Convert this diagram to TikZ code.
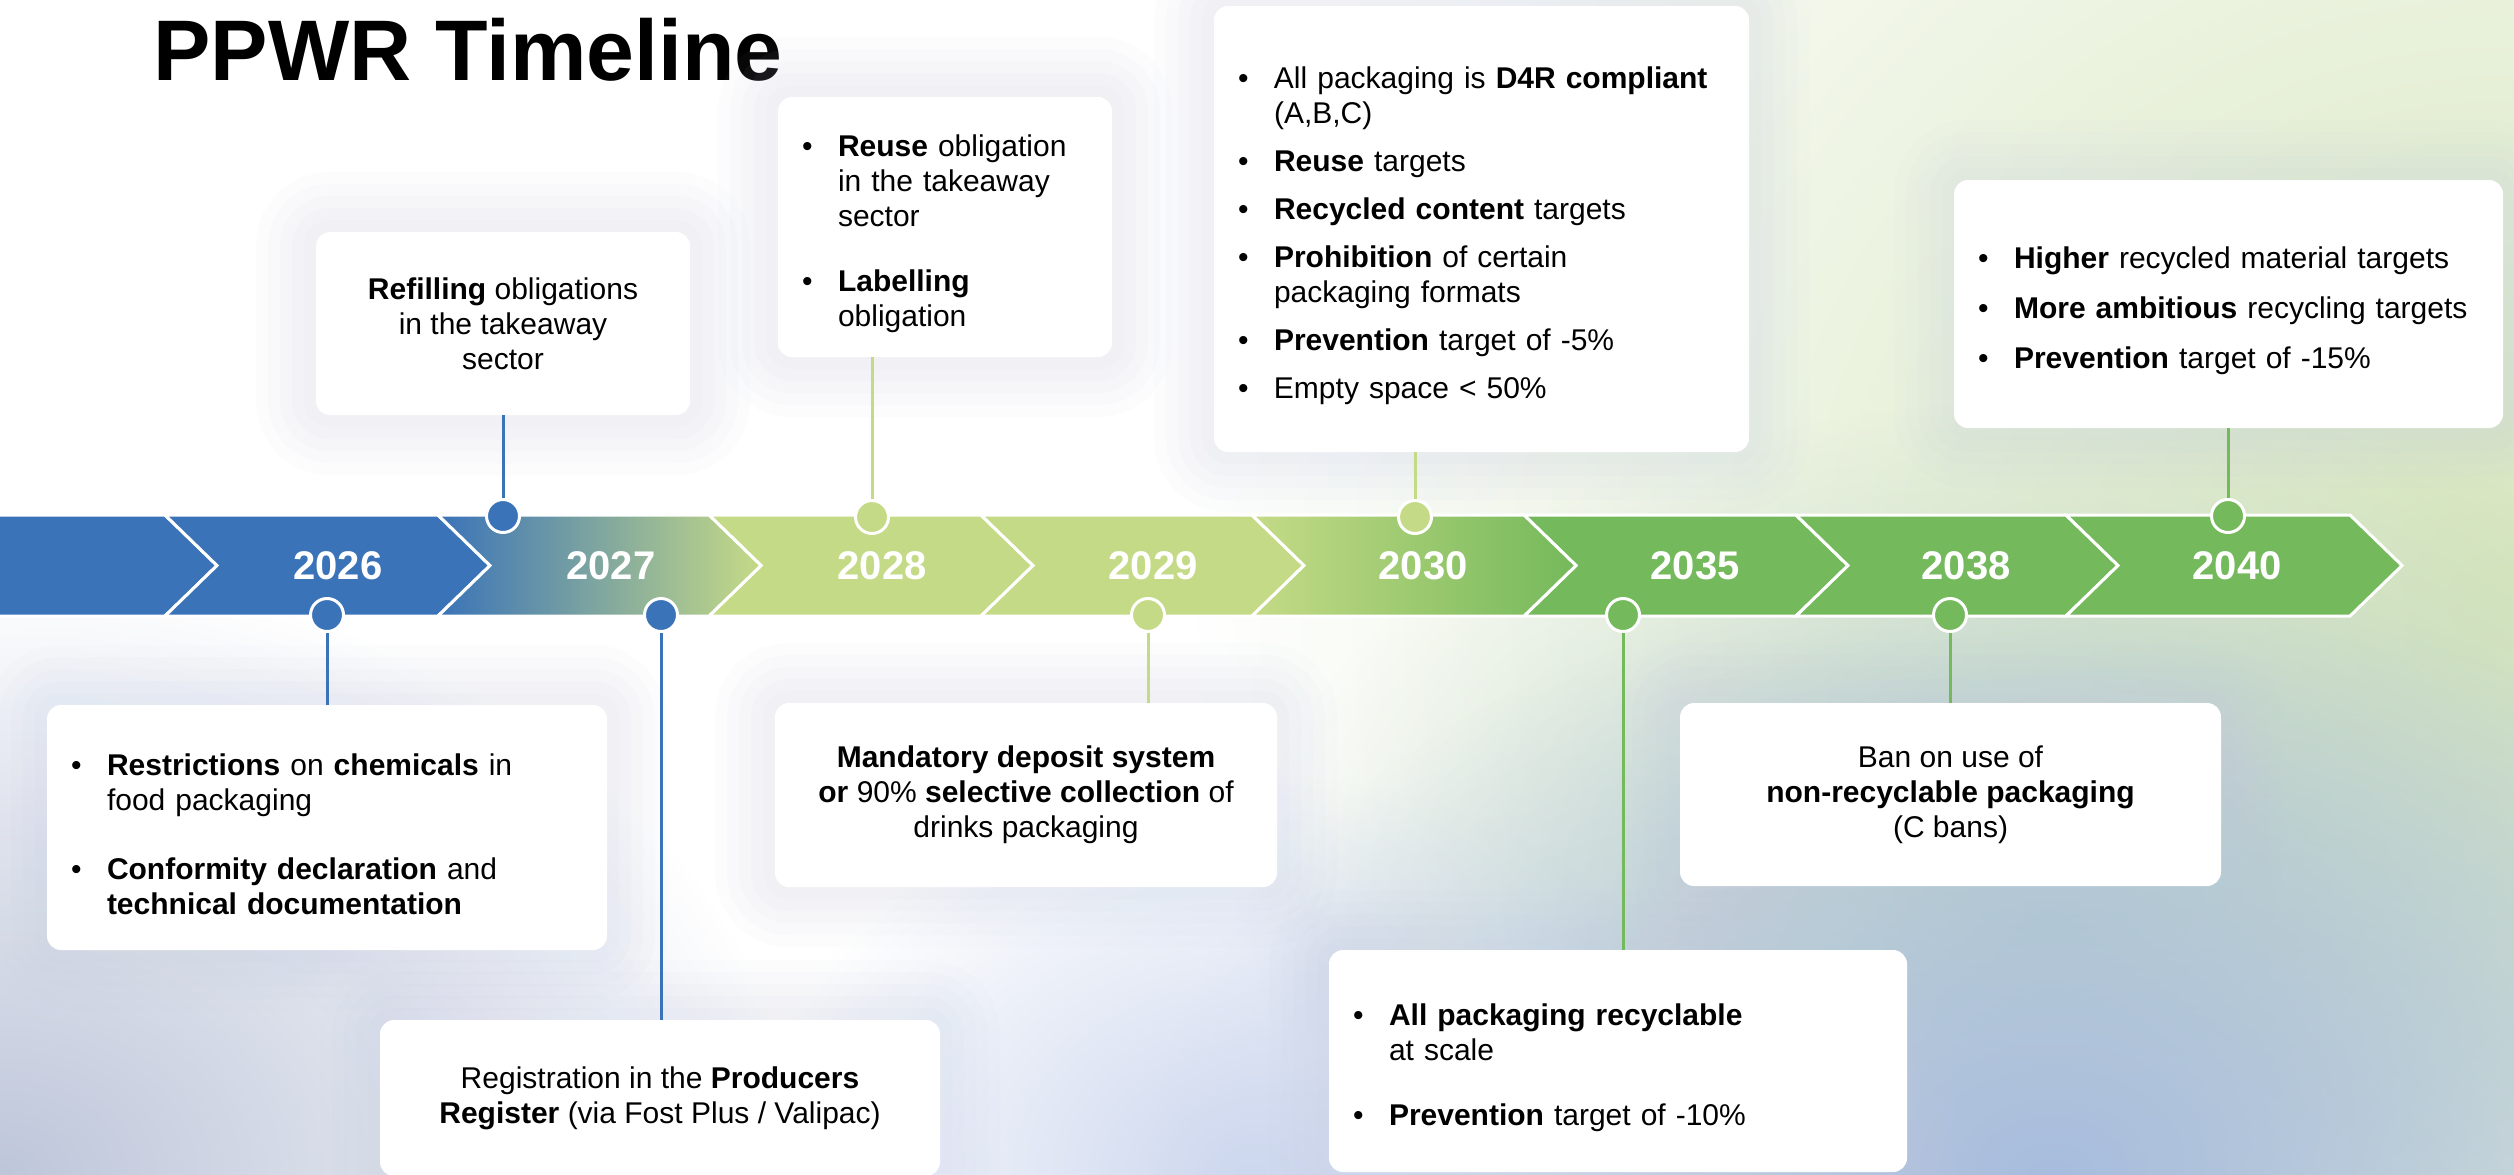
\documentclass[tikz,border=0pt]{standalone}
\usepackage{fontspec}
\setmainfont{Liberation Sans}
\usetikzlibrary{fadings}
\definecolor{ppblue}{RGB}{58,115,184}
\definecolor{pplight}{RGB}{197,218,134}
\definecolor{ppgreen}{RGB}{116,185,91}
\definecolor{pplav}{RGB}{195,203,228}
\definecolor{bggreen}{RGB}{214,230,188}
\definecolor{bgteal}{RGB}{190,212,200}
\definecolor{bgblue}{RGB}{168,188,222}
\definecolor{bggray}{RGB}{190,198,218}
\definecolor{bgsky}{RGB}{205,215,238}
\newcommand{\bul}[2][0pt]{\par\vspace{#1}\noindent\hangindent=18pt\hangafter=1\makebox[18pt][l]{\textbullet}#2\par}
\tikzfading[name=glow,inner color=transparent!0,outer color=transparent!100]
\tikzset{every picture/.style={x=0.5pt,y=-0.5pt}}
\tikzset{card/.style={rectangle,rounded corners=7pt,fill=white,inner sep=0pt,
  font=\fontsize{15}{17.5}\selectfont,
  preaction={draw=pplav,line width=60pt,opacity=.04},
  preaction={draw=pplav,line width=48pt,opacity=.05},
  preaction={draw=pplav,line width=36pt,opacity=.05},
  preaction={draw=pplav,line width=24pt,opacity=.06},
  preaction={draw=pplav,line width=12pt,opacity=.06}}}
\tikzset{listcard/.style={card,align=left,inner xsep=12pt}}
\tikzset{midcard/.style={card,align=center}}
\tikzset{dot/.style={circle,draw=white,line width=1.5pt,minimum size=16.5pt,inner sep=0pt}}
\tikzset{stem/.style={line width=1.5pt}}
\tikzset{chev/.style={draw=white,line width=1.5pt}}
\tikzset{year/.style={text=white,font=\bfseries\fontsize{20}{24}\selectfont}}

\begin{document}
\begin{tikzpicture}
\useasboundingbox (0,0) rectangle (2514,1174);

% background
\begin{scope}
\clip (0,0) rectangle (2514,1174);
\fill[white] (0,0) rectangle (2514,1174);
\fill[bggreen,path fading=glow] (2500,600) ellipse (1300 and 1250);
\fill[bgteal,path fading=glow] (2050,900) ellipse (800 and 500);
\fill[bgblue,path fading=glow] (2050,1174) ellipse (900 and 600);
\fill[bggray,path fading=glow] (0,1174) ellipse (800 and 600);
\fill[bgsky,path fading=glow] (1250,1174) ellipse (500 and 400);
\end{scope}

\node[anchor=base west,inner sep=0pt,font=\bfseries\fontsize{43}{50}\selectfont] (title) at (153,80) {PPWR Timeline};

% cards above the band
\node[midcard,minimum width=187pt,minimum height=91.5pt] (refill) at (503,323.5)
  {\textbf{Refilling} obligations\\in the takeaway\\sector};
\node[listcard,text width=143pt,minimum width=167pt,minimum height=130pt] (reuse) at (945,227)
  {\bul{\textbf{Reuse} obligation\newline in the takeaway\newline sector}
   \bul[15pt]{\textbf{Labelling}\newline obligation}};
\node[listcard,text width=243.5pt,minimum width=267.5pt,minimum height=223pt] (dfr) at (1481.5,229)
  {\bul{All packaging is \textbf{D4R compliant}\newline (A,B,C)}
   \bul[6.5pt]{\textbf{Reuse} targets}
   \bul[6.5pt]{\textbf{Recycled content} targets}
   \bul[6.5pt]{\textbf{Prohibition} of certain\newline packaging formats}
   \bul[6.5pt]{\textbf{Prevention} target of -5\%}
   \bul[6.5pt]{Empty space < 50\%}};
\node[listcard,text width=250.5pt,minimum width=274.5pt,minimum height=124pt] (higher) at (2228.5,304)
  {\bul{\textbf{Higher} recycled material targets}
   \bul[7.5pt]{\textbf{More ambitious} recycling targets}
   \bul[7.5pt]{\textbf{Prevention} target of -15\%}};

% cards below the band
\node[listcard,text width=256pt,minimum width=280pt,minimum height=122.5pt] (restrict) at (327,827.5)
  {\bul{\textbf{Restrictions} on \textbf{chemicals} in\newline food packaging}
   \bul[17pt]{\textbf{Conformity declaration} and\newline \textbf{technical documentation}}};
\node[midcard,minimum width=280pt,minimum height=78pt] (register) at (660,1098)
  {Registration in the \textbf{Producers}\\\textbf{Register} (via Fost Plus / Valipac)};
\node[midcard,minimum width=251pt,minimum height=92pt] (deposit) at (1026,795)
  {\textbf{Mandatory deposit system}\\\textbf{or} 90\% \textbf{selective collection} of\\drinks packaging};
\node[listcard,text width=265pt,minimum width=289pt,minimum height=111pt] (recyc) at (1618,1061)
  {\bul{\textbf{All packaging recyclable}\newline at scale}
   \bul[15pt]{\textbf{Prevention} target of -10\%}};
\node[midcard,minimum width=270.5pt,minimum height=91.5pt] (ban) at (1950.5,794.5)
  {Ban on use of\\\textbf{non-recyclable packaging}\\(C bans)};

% band
\draw[chev,fill=ppblue] (-10,515) -- (165,515) -- (217,565.5) -- (165,616) -- (-10,616) -- cycle;
\foreach \l/\r/\c in {165/438/ppblue,709/981/pplight,981/1252/pplight,1524/1796/ppgreen,1796/2066/ppgreen,2066/2350/ppgreen}
  \draw[chev,fill=\c] (\l,515) -- (\r,515) -- (\r+52,565.5) -- (\r,616) -- (\l,616) -- (\l+52,565.5) -- cycle;
\draw[chev,left color=ppblue,right color=pplight] (438,515) -- (709,515) -- (761,565.5) -- (709,616) -- (438,616) -- (490,565.5) -- cycle;
\draw[chev,left color=pplight,right color=ppgreen] (1252,515) -- (1524,515) -- (1576,565.5) -- (1524,616) -- (1252,616) -- (1304,565.5) -- cycle;

\foreach \x/\yr in {338/2026,611/2027,882/2028,1153/2029,1423/2030,1695/2035,1966/2038,2237/2040}
  \node[year] (y\yr) at (\x,565.5) {\yr};

% dots
\node[dot,fill=ppblue] (d26) at (327,615) {};
\node[dot,fill=ppblue] (d27a) at (503,516) {};
\node[dot,fill=ppblue] (d27b) at (661,615) {};
\node[dot,fill=pplight] (d28) at (872,517) {};
\node[dot,fill=pplight] (d29) at (1148,615) {};
\node[dot,fill=pplight] (d30) at (1415,517) {};
\node[dot,fill=ppgreen] (d35) at (1623,615) {};
\node[dot,fill=ppgreen] (d38) at (1950,615) {};
\node[dot,fill=ppgreen] (d40) at (2228,516) {};

% stems
\draw[stem,ppblue] (d26) -- (d26 |- restrict.north);
\draw[stem,ppblue] (d27a) -- (d27a |- refill.south);
\draw[stem,ppblue] (d27b) -- (d27b |- register.north);
\draw[stem,pplight] (d28) -- (d28 |- reuse.south);
\draw[stem,pplight] (d29) -- (d29 |- deposit.north);
\draw[stem,pplight] (d30) -- (d30 |- dfr.south);
\draw[stem,ppgreen] (d35) -- (d35 |- recyc.north);
\draw[stem,ppgreen] (d38) -- (d38 |- ban.north);
\draw[stem,ppgreen] (d40) -- (d40 |- higher.south);
\end{tikzpicture}
\end{document}
